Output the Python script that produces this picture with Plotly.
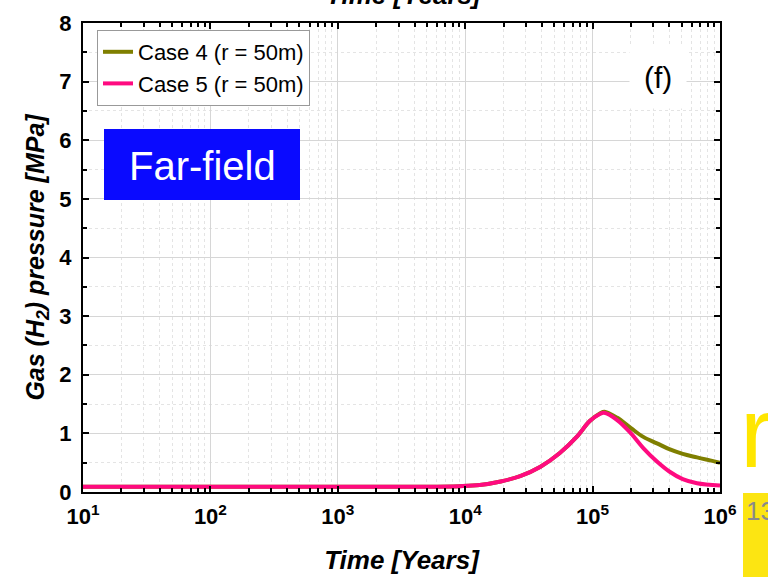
import plotly.graph_objects as go

# Time (years) and gas pressure (MPa)
time_case5 = [10, 100, 1000, 5000, 9e3, 1.3e4, 1.9e4, 2.7e4, 3.9e4, 5.5e4, 7.5e4,
              9.5e4, 1.14e5, 1.23e5, 1.55e5, 2e5, 2.5e5, 3.2e5, 4e5, 5.1e5, 6.6e5, 1e6]
p_case5 = [0.09, 0.09, 0.09, 0.09, 0.10, 0.12, 0.18, 0.27, 0.43, 0.66, 0.94,
           1.21, 1.33, 1.35, 1.23, 1.00, 0.75, 0.52, 0.35, 0.22, 0.15, 0.11]

time_case4 = [10, 100, 1000, 5000, 9e3, 1.3e4, 1.9e4, 2.7e4, 3.9e4, 5.5e4, 7.5e4,
              9.5e4, 1.14e5, 1.24e5, 1.55e5, 2e5, 2.5e5, 3.2e5, 4e5, 5.1e5, 6.6e5, 1e6]
p_case4 = [0.09, 0.09, 0.09, 0.09, 0.10, 0.12, 0.18, 0.27, 0.43, 0.66, 0.94,
           1.21, 1.34, 1.37, 1.27, 1.09, 0.94, 0.83, 0.73, 0.65, 0.59, 0.50]

x_tickvals = [10, 100, 1000, 1e4, 1e5, 1e6]
x_ticktext = ["10<sup>1</sup>", "10<sup>2</sup>", "10<sup>3</sup>",
              "10<sup>4</sup>", "10<sup>5</sup>", "10<sup>6</sup>"]

FONT = "Arial, Liberation Sans, sans-serif"

# plot area in pixels
L, R, T, B = 83, 720, 23, 492


def px(x):
    return (x - L) / (R - L)


def py(y):
    return 1 - (y - T) / (B - T)


fig = go.Figure()
fig.add_trace(go.Scatter(x=time_case4, y=p_case4, mode="lines", name="Case 4 (r = 50m)",
                         line=dict(color="#7f7f00", width=4, shape="spline", smoothing=1)))
fig.add_trace(go.Scatter(x=time_case5, y=p_case5, mode="lines", name="Case 5 (r = 50m)",
                         line=dict(color="#ff0a80", width=4, shape="spline", smoothing=1)))

axis_common = dict(
    showline=True, linecolor="black", linewidth=2, mirror="allticks",
    ticks="inside", tickcolor="black", tickwidth=1.5, ticklen=6,
    showgrid=True, gridcolor="#d6d6d6", gridwidth=1, zeroline=False,
    automargin=False,
    tickfont=dict(family=FONT, size=22, color="black", weight="bold"),
)

fig.update_xaxes(
    type="log", range=[1, 6],
    tickvals=x_tickvals, ticktext=x_ticktext, ticklabelstandoff=4,
    minor=dict(ticks="inside", ticklen=4, tickcolor="black", dtick="D1",
               showgrid=True, gridcolor="#e4e4e4", griddash="dot"),
    title=dict(text="<i>Time [Years]</i>", standoff=22,
               font=dict(family=FONT, size=26, color="black", weight="bold")),
    **axis_common,
)
fig.update_yaxes(
    range=[0, 8], dtick=1, ticklabelstandoff=5,
    minor=dict(ticks="inside", ticklen=4, tickcolor="black", dtick=0.5,
               showgrid=True, gridcolor="#e4e4e4", griddash="dot"),
    title=dict(text="<i>Gas (H<sub>2</sub>) pressure [MPa]</i>", standoff=8,
               font=dict(family=FONT, size=25, color="black", weight="bold")),
    **axis_common,
)

fig.update_layout(
    width=768, height=577,
    margin=dict(l=L, r=768 - R, t=T, b=577 - B, autoexpand=False),
    paper_bgcolor="white", plot_bgcolor="white",
    font=dict(family=FONT),
    legend=dict(x=px(97), y=py(30), xanchor="left", yanchor="top",
                bgcolor="white", bordercolor="#999999", borderwidth=1,
                font=dict(family=FONT, size=22, color="black"),
                tracegroupgap=0),
    showlegend=True,
)

# Far-field label box
fig.add_shape(type="rect", xref="paper", yref="paper",
              x0=px(104), x1=px(300), y0=py(200), y1=py(129),
              fillcolor="#0a0aff", line=dict(width=0), layer="above")
fig.add_annotation(xref="paper", yref="paper", x=px(202), y=py(166),
                   xanchor="center", yanchor="middle",
                   text="Far-field", showarrow=False,
                   font=dict(family=FONT, size=40, color="white"))

# panel label
fig.add_annotation(xref="paper", yref="paper", x=px(658), y=py(78),
                   xanchor="center", yanchor="middle",
                   text="(f)", showarrow=False, bgcolor="white", borderpad=14,
                   font=dict(family=FONT, size=30, color="black"))

# cut-off title of the panel above
fig.add_annotation(xref="paper", yref="paper", x=px(404), y=py(12),
                   xanchor="center", yanchor="bottom",
                   text="<i>Time [Years]</i>", showarrow=False,
                   font=dict(family=FONT, size=26, color="black", weight="bold"))

# slide remnants on the right edge
fig.add_annotation(xref="paper", yref="paper", x=px(738), y=py(432),
                   xanchor="left", yanchor="middle", text="r", showarrow=False,
                   font=dict(family=FONT, size=100, color="#ffe600"))
fig.add_shape(type="rect", xref="paper", yref="paper",
              x0=px(743), x1=px(790), y0=py(600), y1=py(493),
              fillcolor="#fce512", line=dict(width=0))
fig.add_annotation(xref="paper", yref="paper", x=px(744), y=py(511),
                   xanchor="left", yanchor="middle", text="13", showarrow=False,
                   font=dict(family=FONT, size=26, color="#8a8a8a"))

# the page body has a default 8px margin; remove it so the figure fills the window
fig.write_html("out.html", config={"displayModeBar": False},
               post_script="document.body.style.margin='0';")
